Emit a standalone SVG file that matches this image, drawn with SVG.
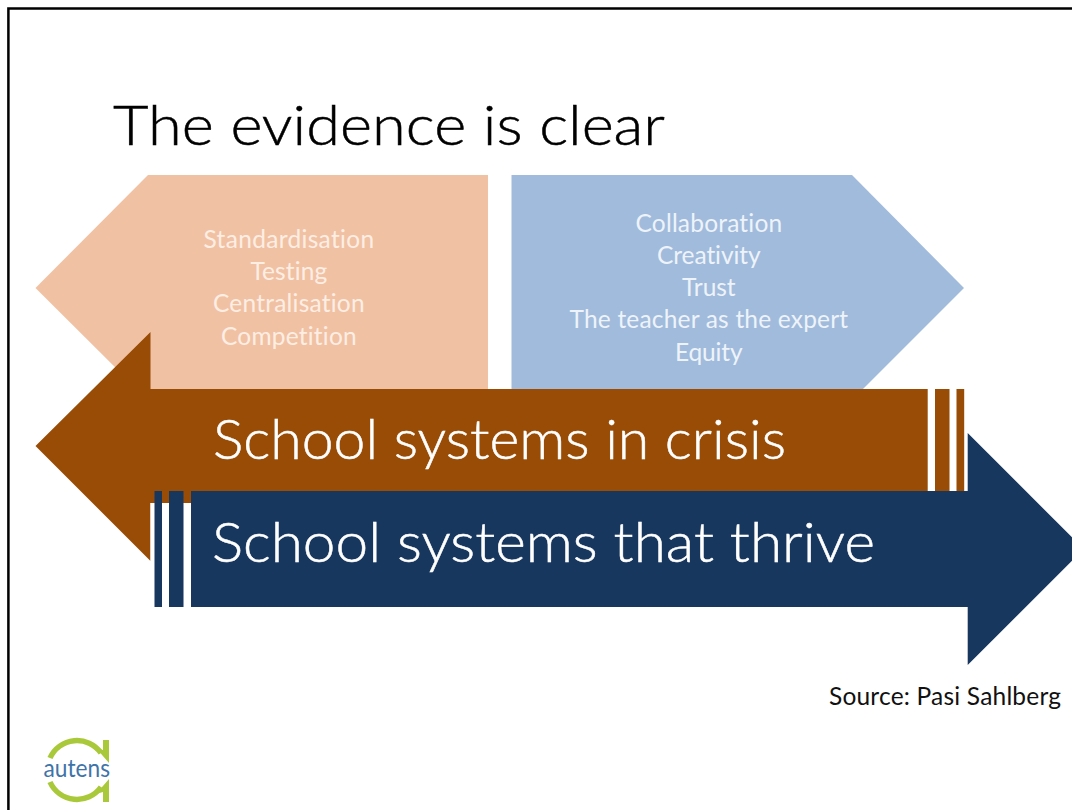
<svg xmlns="http://www.w3.org/2000/svg" width="1072" height="810" viewBox="0 0 1072 810">
<style>
.g{font-family:"Lato","Open Sans","Liberation Sans",sans-serif}
.c{font-size:24.5px;text-anchor:middle;letter-spacing:.35px;font-family:"Lato","Open Sans","Liberation Sans",sans-serif}
.big{font-size:55px;fill:#fff;stroke:#fff;stroke-width:.5px;font-family:"Lato","Liberation Sans",sans-serif;font-weight:300}
</style>
<rect width="1072" height="810" fill="#fff"/>
<path id="frame" d="M1072 8.400H8.400V810" fill="none" stroke="#000" stroke-width="2.500"/>
<g id="title"><text class="g" x="113" y="145" font-size="56" font-weight="300" fill="#000" stroke="#000" stroke-width=".5" textLength="552" lengthAdjust="spacingAndGlyphs">The evidence is clear</text></g>
<g id="peach-arrow">
<path d="M35.500 288L148 175H488V400H148Z" fill="#f1c1a3"/>
<g fill="#fdeee4">
<text class="c" x="289" y="248" textLength="171">Standardisation</text>
<text class="c" x="289" y="280" textLength="77">Testing</text>
<text class="c" x="289" y="312" textLength="152">Centralisation</text>
<text class="c" x="289" y="345" textLength="136">Competition</text>
</g>
</g>
<g id="blue-arrow">
<path d="M511.500 175H852L964 288L852 400H511.500Z" fill="#a1bbdc"/>
<g fill="#eef3f9">
<text class="c" x="709" y="232" textLength="147">Collaboration</text>
<text class="c" x="709" y="264" textLength="104">Creativity</text>
<text class="c" x="709" y="296" textLength="54">Trust</text>
<text class="c" x="709" y="328" textLength="279">The teacher as the expert</text>
<text class="c" x="709" y="361" textLength="68">Equity</text>
</g>
</g>
<g id="crisis-arrow">
<path d="M35.500 446L150.500 332V389H927.700V503H150.500V561Z" fill="#984c06"/>
<rect x="935" y="389" width="14.500" height="102" fill="#984c06"/>
<rect x="956.500" y="389" width="7.700" height="102" fill="#984c06"/>
<text class="big" x="213" y="459" textLength="573" lengthAdjust="spacingAndGlyphs">School systems in crisis</text>
</g>
<g id="thrive-arrow">
<path d="M191 491H967.700V433L1083.700 549L967.700 665V607H191Z" fill="#17375e"/>
<rect x="150.500" y="503" width="40.500" height="104" fill="#fff"/>
<rect x="154.500" y="491" width="7.500" height="116" fill="#17375e"/>
<rect x="169" y="491" width="14.500" height="116" fill="#17375e"/>
<rect x="191" y="491" width="20" height="116" fill="#17375e"/>
<text class="big" x="212" y="562" textLength="663" lengthAdjust="spacingAndGlyphs">School systems that thrive</text>
</g>
<g id="source"><text class="g" x="829" y="705" font-size="24.500" fill="#111" textLength="232">Source: Pasi Sahlberg</text></g>
<g id="logo">
<path d="M50 758A29.500 29.500 0 0 1 101 753" fill="none" stroke="#a9c93a" stroke-width="5.500"/>
<path d="M50 782A29.500 29.500 0 0 0 101 787" fill="none" stroke="#a9c93a" stroke-width="5.500"/>
<path d="M109 740V763L96 748L103 750V740Z" fill="#a9c93a"/>
<path d="M109 802V779L96 794L103 792V802Z" fill="#a9c93a"/>
<text x="43.500" y="777" font-family="'Lato','Liberation Sans',sans-serif" font-size="25" fill="#3f74a8" textLength="66.500" lengthAdjust="spacingAndGlyphs">autens</text>
</g>
</svg>
